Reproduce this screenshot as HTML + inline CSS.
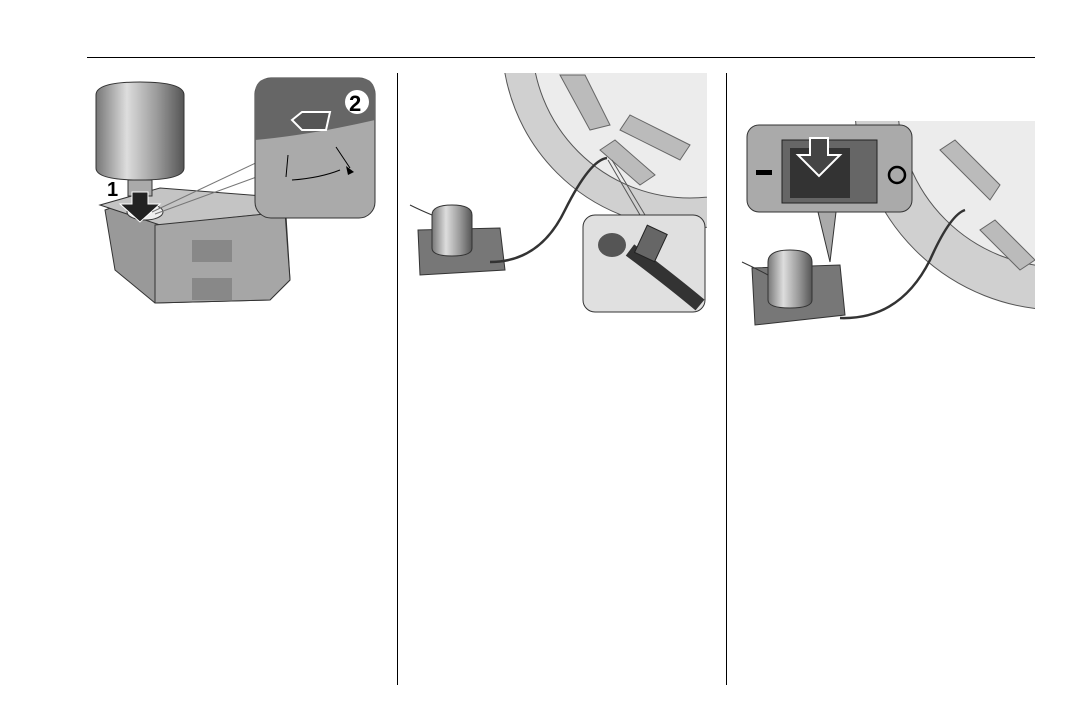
<!DOCTYPE html>
<html><head><style>
html,body{margin:0;padding:0;background:#fff;width:1078px;height:721px;overflow:hidden}
svg{display:block}
text{font-family:"Liberation Sans",sans-serif;font-weight:bold}
</style></head><body>
<svg width="1078" height="721" viewBox="0 0 1078 721">
<defs>
<linearGradient id="cyl" x1="0" x2="1" y1="0" y2="0">
<stop offset="0" stop-color="#777"/><stop offset="0.35" stop-color="#ddd"/><stop offset="0.7" stop-color="#999"/><stop offset="1" stop-color="#555"/>
</linearGradient>
<clipPath id="c2"><rect x="400" y="73" width="307" height="250"/></clipPath>
<clipPath id="c3"><rect x="728" y="121" width="307" height="250"/></clipPath>
</defs>
<line x1="87" y1="57.5" x2="1035" y2="57.5" stroke="#000" stroke-width="1"/>
<line x1="397.5" y1="73" x2="397.5" y2="685" stroke="#000"/>
<line x1="726.5" y1="73" x2="726.5" y2="685" stroke="#000"/>

<!-- Panel 1 -->
<path d="M105 210 L160 190 L285 200 L290 280 L270 300 L155 303 L115 270 Z" fill="#999" stroke="#333"/>
<path d="M100 205 L160 188 L288 198 L285 212 L160 225 Z" fill="#c4c4c4" stroke="#333"/>
<path d="M155 225 L285 212 L290 280 L270 300 L155 303 Z" fill="#a6a6a6" stroke="#333"/>
<rect x="192" y="240" width="40" height="22" fill="#888"/>
<rect x="192" y="278" width="40" height="22" fill="#888"/>
<ellipse cx="145" cy="212" rx="18" ry="8" fill="#eee" stroke="#333"/>
<path d="M96 95 Q96 82 140 82 Q184 82 184 95 L184 168 Q184 180 140 180 Q96 180 96 168 Z" fill="url(#cyl)" stroke="#333"/>
<rect x="128" y="180" width="24" height="16" fill="#aaa" stroke="#333"/>
<path d="M132 192 L148 192 L148 204 L160 204 L140 222 L120 204 L132 204 Z" fill="#222" stroke="#fff"/>
<text x="107" y="196" font-size="20">1</text>
<line x1="152" y1="212" x2="262" y2="160" stroke="#777"/>
<line x1="155" y1="214" x2="262" y2="175" stroke="#777"/>
<rect x="255" y="78" width="120" height="140" rx="16" fill="#aaa" stroke="#333"/>
<path d="M255 140 Q310 135 375 120 L375 94 Q375 78 359 78 L271 78 Q255 78 255 94 Z" fill="#666"/>
<path d="M292 120 L302 112 L330 112 L326 130 L302 130 Z" fill="#555" stroke="#fff" stroke-width="2"/>
<circle cx="357" cy="102" r="12" fill="#fff"/>
<text x="349" y="111" font-size="22" fill="#000">2</text>
<line x1="288" y1="155" x2="286" y2="177" stroke="#000"/>
<line x1="336" y1="147" x2="350" y2="168" stroke="#000"/>
<path d="M292 180 Q320 178 340 170" fill="none" stroke="#000"/>
<polygon points="346,166 354,172 348,175" fill="#000"/>

<!-- Panel 2 -->
<g clip-path="url(#c2)">
<circle cx="690" cy="40" r="188" fill="#d0d0d0" stroke="#555"/>
<circle cx="690" cy="40" r="158" fill="#ececec" stroke="#555"/>
<path d="M560 75 L590 130 L610 125 L585 75Z M620 130 L680 160 L690 145 L630 115Z M600 150 L640 185 L655 175 L615 140Z" fill="#bbb" stroke="#666"/>
</g>
<path d="M418 230 L500 228 L505 270 L420 275 Z" fill="#777" stroke="#333"/>
<path d="M432 215 Q432 205 452 205 Q472 205 472 215 L472 248 Q472 256 452 256 Q432 256 432 248 Z" fill="url(#cyl)" stroke="#333"/>
<path d="M490 262 Q540 262 565 210 Q590 160 607 158" fill="none" stroke="#333" stroke-width="2.5"/>
<path d="M410 205 Q420 210 432 215" fill="none" stroke="#333"/>
<line x1="608" y1="160" x2="640" y2="215" stroke="#555"/>
<line x1="612" y1="160" x2="645" y2="215" stroke="#555"/>
<rect x="583" y="215" width="122" height="97" rx="12" fill="#e0e0e0" stroke="#333"/>
<path d="M630 250 Q670 280 700 305" stroke="#333" stroke-width="14" fill="none"/>
<rect x="640" y="228" width="22" height="30" fill="#666" stroke="#222" transform="rotate(25 650 243)"/>
<ellipse cx="612" cy="245" rx="14" ry="12" fill="#555"/>

<!-- Panel 3 -->
<g clip-path="url(#c3)">
<circle cx="1060" cy="105" r="205" fill="#d0d0d0" stroke="#555"/>
<circle cx="1060" cy="105" r="162" fill="#ececec" stroke="#555"/>
<path d="M940 150 L990 200 L1000 185 L955 140Z M980 230 L1020 270 L1035 260 L995 220Z" fill="#bbb" stroke="#666"/>
</g>
<path d="M752 268 L840 265 L845 315 L755 325 Z" fill="#777" stroke="#333"/>
<path d="M768 262 Q768 250 790 250 Q812 250 812 262 L812 300 Q812 308 790 308 Q768 308 768 300 Z" fill="url(#cyl)" stroke="#333"/>
<path d="M840 318 Q900 320 930 260 Q950 215 965 210" fill="none" stroke="#333" stroke-width="2.5"/>
<path d="M742 262 Q755 268 768 275" fill="none" stroke="#333"/>
<polygon points="818,212 836,212 830,262" fill="#aaa" stroke="#333"/>
<rect x="747" y="125" width="165" height="87" rx="12" fill="#aaa" stroke="#333"/>
<rect x="782" y="140" width="95" height="63" fill="#666" stroke="#222"/>
<rect x="790" y="148" width="60" height="50" fill="#333"/>
<path d="M810 138 L828 138 L828 155 L840 155 L819 176 L798 155 L810 155 Z" fill="#444" stroke="#fff" stroke-width="2"/>
<rect x="756" y="170" width="16" height="5" fill="#000"/>
<circle cx="897" cy="175" r="8" fill="none" stroke="#000" stroke-width="2.5"/>
</svg>
</body></html>
